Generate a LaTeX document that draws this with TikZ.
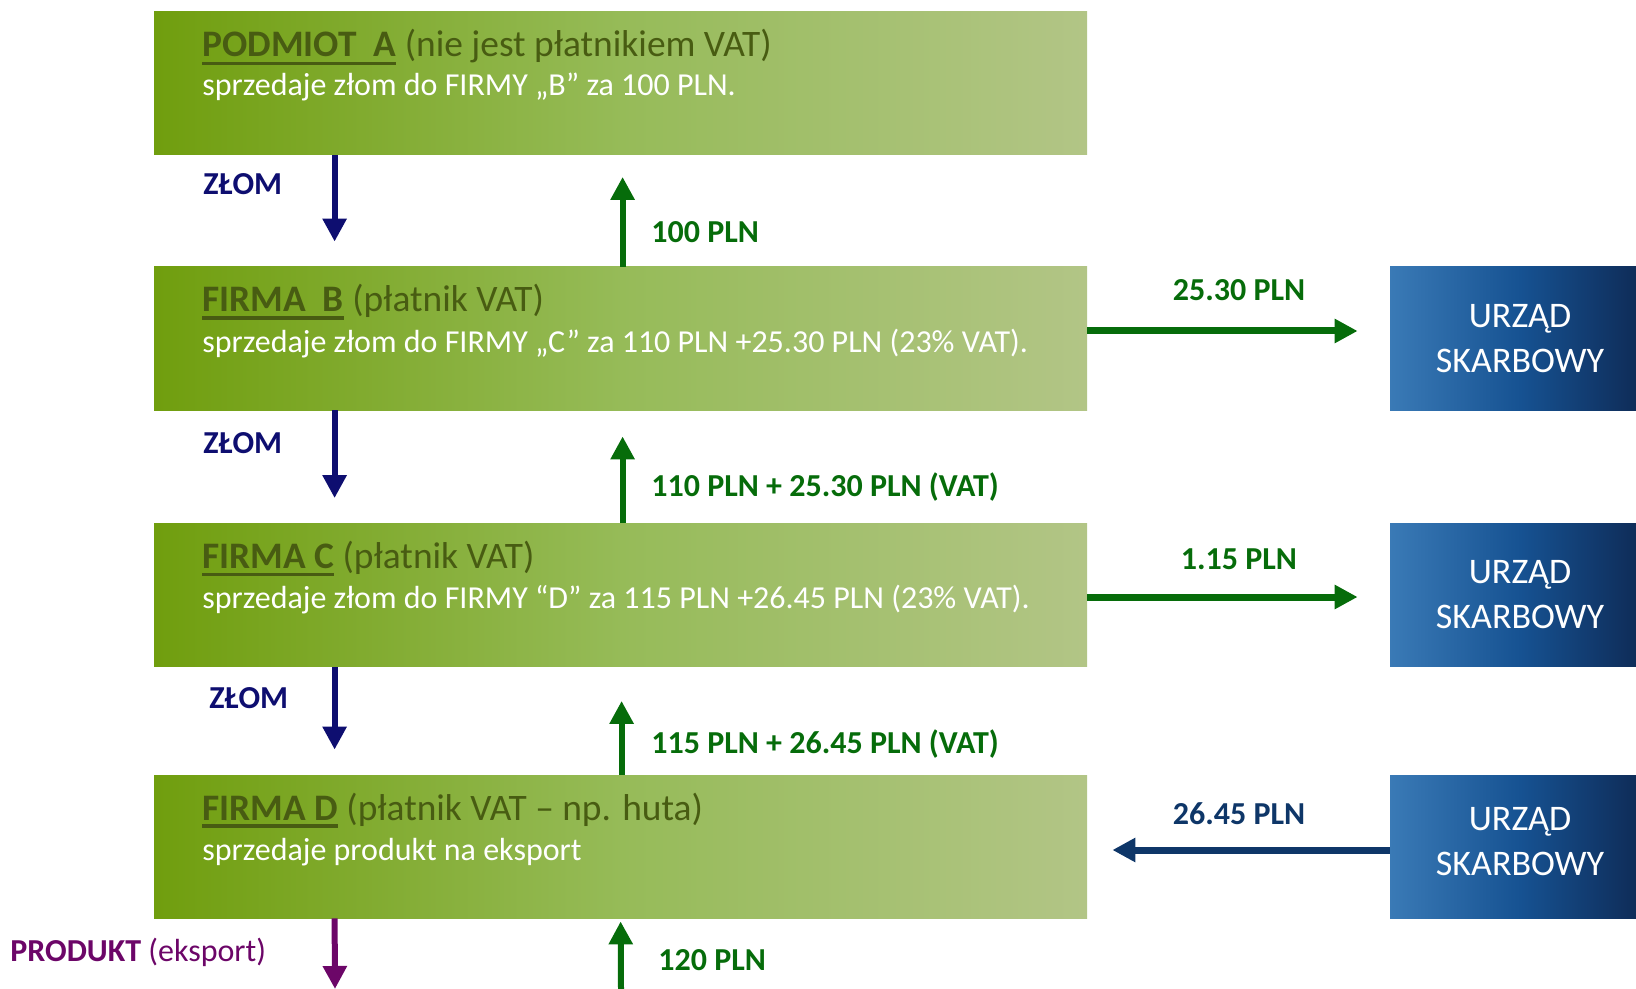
\documentclass[tikz,border=0pt]{standalone}
\usepackage{fontspec}
\setmainfont{Carlito}
\usetikzlibrary{arrows.meta}

\definecolor{zielL}{RGB}{112,158,14}
\definecolor{zielM}{RGB}{150,187,88}
\definecolor{zielR}{RGB}{178,197,134}
\definecolor{nieL}{RGB}{58,122,182}
\definecolor{nieM}{RGB}{22,82,146}
\definecolor{nieR}{RGB}{14,40,82}
\definecolor{oliwka}{RGB}{72,92,18}
\definecolor{granat}{RGB}{14,14,112}
\definecolor{zielen}{RGB}{6,108,10}
\definecolor{blekit}{RGB}{14,54,104}
\definecolor{fiolet}{RGB}{108,6,104}

\newcommand\podkr[1]{\leavevmode\vtop{\hbox{#1}\kern2.2pt\hrule height 1.8pt}}

\begin{document}
\begin{tikzpicture}[x=0.5pt,y=-0.5pt,>={Triangle[length=11.5pt,width=11.5pt]}]
      \tikzstyle{firma}=[rectangle,minimum width=466.5pt,minimum height=71.5pt,inner sep=0pt,left color=zielL,right color=zielR,middle color=zielM]
      \tikzstyle{urzad}=[rectangle,minimum width=130pt,minimum height=71.5pt,inner sep=0pt,left color=nieL,right color=nieR,middle color=nieM,text=white,align=center,font=\fontsize{18}{22.5}\selectfont]
      \tikzstyle{tytul}=[anchor=base west,inner sep=0pt,text=oliwka,font=\fontsize{18.7}{22}\selectfont]
      \tikzstyle{opis}=[anchor=base west,inner sep=0pt,text=white,font=\fontsize{16}{19}\selectfont]
      \tikzstyle{kwota}=[inner sep=0pt,font=\fontsize{16}{19}\selectfont\bfseries]
      \tikzstyle{zlom}=[->,granat,line width=3pt,shorten >=12.5pt]
      \tikzstyle{pln}=[->,zielen,line width=3pt]
      \useasboundingbox (0,0) rectangle (1636,989);
      % firmy
      \node[firma] (A) at (620.5,83)    {};
      \node[firma] (B) at (620.5,338.5) {};
      \node[firma] (C) at (620.5,595)   {};
      \node[firma] (D) at (620.5,846.5) {};
      \node[tytul] (A_t) at (202,57)  {\podkr{\textbf{PODMIOT\ \ A}} (nie jest płatnikiem VAT)};
      \node[opis]  (A_s) at (202,96)  {sprzedaje złom do FIRMY „B” za 100 PLN.};
      \node[tytul] (B_t) at (202,312) {\podkr{\textbf{FIRMA\ \ B}} (płatnik VAT)};
      \node[opis]  (B_s) at (202,352) {sprzedaje złom do FIRMY „C” za 110 PLN +25.30 PLN (23\% VAT).};
      \node[tytul] (C_t) at (202,568) {\podkr{\textbf{FIRMA C}} (płatnik VAT)};
      \node[opis]  (C_s) at (202,608) {sprzedaje złom do FIRMY “D” za 115 PLN +26.45 PLN (23\% VAT).};
      \node[tytul] (D_t) at (202,820) {\podkr{\textbf{FIRMA D}} (płatnik VAT – np. huta)};
      \node[opis]  (D_s) at (202,860) {sprzedaje produkt na eksport};
      % urzedy
      \node[urzad] (US_1) at (1520,338.5) {URZĄD\\SKARBOWY};
      \node[urzad] (US_2) at (1520,595)   {URZĄD\\SKARBOWY};
      \node[urzad,text depth=5.4pt] (US_3) at (1520,846.5) {URZĄD\\SKARBOWY};
      % zlom w dol
      \draw[zlom] ([xshift=90.5pt]A.south west) -- ([xshift=90.5pt]B.north west);
      \draw[zlom] ([xshift=90.5pt]B.south west) -- ([xshift=90.5pt]C.north west);
      \draw[zlom] ([xshift=90.5pt]C.south west) -- ([xshift=90.5pt]D.north west);
      \node[kwota,granat,anchor=west] (Z_1) at (203,184) {ZŁOM};
      \node[kwota,granat,anchor=west] (Z_2) at (203,443) {ZŁOM};
      \node[kwota,granat,anchor=west] (Z_3) at (209,698) {ZŁOM};
      % platnosci w gore
      \draw[pln,shorten >=11pt] ([xshift=234.5pt]B.north west) -- ([xshift=234.5pt]A.south west);
      \draw[pln,shorten >=13pt] ([xshift=234.5pt]C.north west) -- ([xshift=234.5pt]B.south west);
      \draw[pln,shorten >=17pt] ([xshift=234pt]D.north west) -- ([xshift=234pt]C.south west);
      \node[kwota,zielen,anchor=west] (P_1) at (651,232) {100 PLN};
      \node[kwota,zielen,anchor=west] (P_2) at (651,487) {110 PLN + 25.30 PLN (VAT)};
      \node[kwota,zielen,anchor=west] (P_3) at (651,744) {115 PLN + 26.45 PLN (VAT)};
      % VAT
      \draw[pln,line width=3.5pt,shorten >=16pt] ([yshift=3.75pt]B.east) -- ([yshift=3.75pt]US_1.west);
      \draw[pln,line width=3.5pt,shorten >=16pt] ([yshift=-1pt]C.east) -- ([yshift=-1pt]US_2.west);
      \draw[->,blekit,line width=3.5pt,shorten >=12.5pt] ([yshift=-1.75pt]US_3.west) -- ([yshift=-1.75pt]D.east);
      \node[kwota,zielen] (V_1) at (1239,290) {25.30 PLN};
      \node[kwota,zielen] (V_2) at (1239,559) {1.15 PLN};
      \node[kwota,blekit] (V_3) at (1239,814) {26.45 PLN};
      % eksport
      \coordinate (eks) at (335,989);
      \coordinate (zapl) at (621,989);
      \draw[->,fiolet,line width=3pt] ([xshift=90.5pt]D.south west) -- (eks);
      \draw[pln,shorten >=1.5pt] (zapl) -- ([xshift=233.5pt]D.south west);
      \node[kwota,fiolet,anchor=west] (E) at (10,952) {PRODUKT \mdseries(eksport)};
      \node[kwota,zielen,anchor=west] (P_4) at (658,960) {120 PLN};
    \end{tikzpicture}
\end{document}
